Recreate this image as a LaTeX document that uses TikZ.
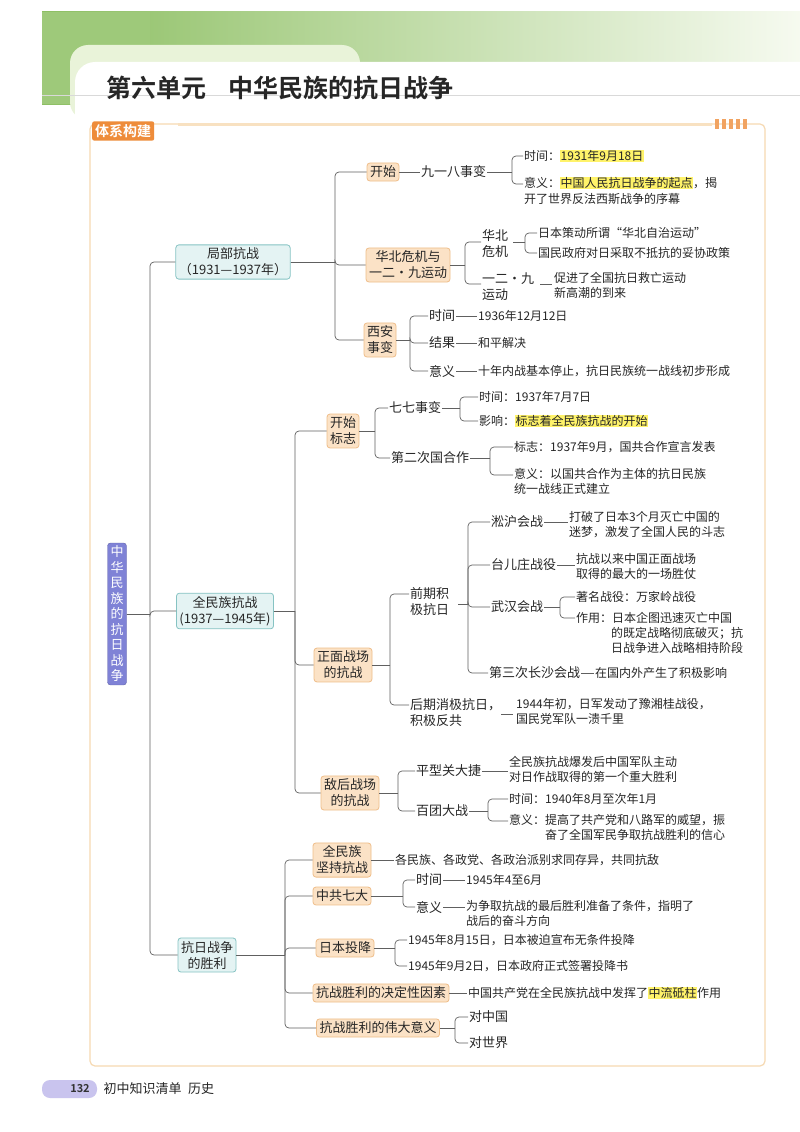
\documentclass[tikz,border=0pt]{standalone}
\usepackage{fontspec}
\setmainfont{Noto Sans CJK SC}
\newfontfamily\boldcjk{Noto Sans CJK SC Bold}
\usetikzlibrary{calc}
\definecolor{boxfill}{HTML}{FBE2C6}
\definecolor{boxdraw}{HTML}{EFBE8A}
\definecolor{tealfill}{HTML}{E4F3F3}
\definecolor{tealdraw}{HTML}{86C3C3}
\definecolor{rootfill}{HTML}{7F82D6}
\definecolor{framec}{HTML}{F6D9B2}
\definecolor{tabc}{HTML}{EE8C3A}
\definecolor{hlc}{HTML}{FFF36A}
\definecolor{greenA}{HTML}{8DBF63}
\definecolor{greenB}{HTML}{E9F3D9}
\definecolor{pillc}{HTML}{C9C4EE}
\newcommand{\hl}[1]{{\setlength{\fboxsep}{0.5pt}\colorbox{hlc}{#1}}}
\newcommand{\br}[3]{\path (#2,0) coordinate (tmpx); \draw[ln,rounded corners=0] (#1.east) -- (#1.east -| tmpx); \draw[ln] (#1.east -| tmpx) |- (#3.west);}
\tikzset{
 ln/.style={draw=gray!75!black, line width=0.7pt, rounded corners=4pt},
 obox/.style={draw=boxdraw, fill=boxfill, rounded corners=3pt, line width=0.8pt, font=\fontsize{13}{16}\selectfont, align=center, inner sep=3pt, text=black!85},
 tbox/.style={draw=tealdraw, fill=tealfill, rounded corners=3pt, line width=0.8pt, font=\fontsize{13}{16}\selectfont, align=center, inner sep=3pt, text=black!85},
 lab/.style={font=\fontsize{13}{16}\selectfont, align=left, inner sep=1pt, anchor=west, text=black!85},
 txt/.style={font=\fontsize{12}{15.5}\selectfont, align=left, inner sep=1pt, anchor=west, text=black!85},
}
\begin{document}
\begin{tikzpicture}[x=1pt,y=-1pt]
\useasboundingbox (0,0) rectangle (800,1132);
\fill[white] (0,0) rectangle (800,1132);
% banner
\shade[left color=greenA, right color=greenB!40] (42,12) rectangle (800,104);
\fill[greenA!85] (42,12) rectangle (150,104);
\fill[greenB, rounded corners=18pt] (70,45) rectangle (360,120);
\fill[white, rounded corners=20pt] (75,62) rectangle (820,140);
\fill[white] (75,95) rectangle (800,110);
\draw[gray!30] (42,95) -- (800,95);
\node[anchor=west, font=\boldcjk\fontsize{25}{28}\selectfont, text=black!85, inner sep=0] (title) at (106,88) {第六单元\hspace{0.9em}中华民族的抗日战争};
% frame
\draw[framec, line width=1.2pt, rounded corners=5pt] (90,124) rectangle (765,1066);
\draw[framec!80, line width=3pt] (178,124) -- (712,124);
\node[fill=tabc, text=white, font=\boldcjk\fontsize{14}{16}\selectfont, rounded corners=2pt, inner sep=3pt, anchor=west] (tab) at (92,131) {体系构建};
\foreach \i in {0,...,4} \fill[tabc!80] (715+\i*7,119) rectangle (719+\i*7,129);
% root
\node[fill=rootfill, draw=rootfill!80!black, rounded corners=3pt, text=white, font=\fontsize{13}{15.5}\selectfont, align=center, inner sep=3pt] (root) at (117,614) {中\\华\\民\\族\\的\\抗\\日\\战\\争};
% level1
\node[tbox] (ju) at (233,262) {局部抗战\\（1931—1937年）};
\node[tbox] (qm) at (225,611) {全民族抗战\\(1937—1945年)};
\node[tbox] (sl) at (207,955) {抗日战争\\的胜利};
\br{root}{150}{ju} \br{root}{150}{qm} \br{root}{150}{sl}
% 局部抗战
\node[obox] (ks) at (383,172) {开始};
\node[obox] (hb) at (408,265) {华北危机与\\一二·九运动};
\node[obox] (xa) at (380,340) {西安\\事变};
\br{ju}{335}{ks} \br{ju}{335}{hb} \br{ju}{335}{xa}
\node[lab] (jyb) at (420,172) {九一八事变};
\draw[ln] (ks) -- (jyb);
\node[txt] (t1) at (523,156) {时间：\hl{1931年9月18日}};
\node[txt, anchor=north west] (t2) at (523,176) {意义：\hl{中国人民抗日战争的起点}，揭\\开了世界反法西斯战争的序幕};
\path (512,0) coordinate (b1); \draw[ln,rounded corners=0] (jyb.east) -- (jyb.east -| b1); \draw[ln] (jyb.east -| b1) |- (t1.west);
\draw[ln] (jyb.east -| b1) |- ($(t2.north west)+(0,8)$);
\node[lab, anchor=north west] (hbwj) at (481,228) {华北\\危机};
\node[lab, anchor=north west] (yej) at (481,272) {一二·九\\运动};
\path (465,0) coordinate (b2);
\draw[ln,rounded corners=0] (hb.east) -- (hb.east -| b2);
\draw[ln] (hb.east -| b2) |- ($(hbwj.north west)+(0,14)$);
\draw[ln] (hb.east -| b2) |- ($(yej.north west)+(0,12)$);
\node[txt] (h1) at (537,233) {日本策动所谓“华北自治运动”};
\node[txt] (h2) at (537,253) {国民政府对日采取不抵抗的妥协政策};
\path (513,242) coordinate (hbe);
\path (525,0) coordinate (b3);
\draw[ln,rounded corners=0] (hbe) -- (hbe -| b3);
\draw[ln] (hbe -| b3) |- (h1.west); \draw[ln] (hbe -| b3) |- (h2.west);
\node[txt, anchor=north west] (h3) at (553,271) {促进了全国抗日救亡运动\\新高潮的到来};
\draw[ln, rounded corners=0] (540,284) -- (552,284);
\node[lab] (x1) at (428,316) {时间};
\node[lab] (x2) at (428,343) {结果};
\node[lab] (x3) at (428,371) {意义};
\br{xa}{410}{x1} \br{xa}{410}{x2} \br{xa}{410}{x3}
\node[txt] (x1t) at (477,316) {1936年12月12日};
\node[txt] (x2t) at (477,343) {和平解决};
\node[txt] (x3t) at (477,371) {十年内战基本停止，抗日民族统一战线初步形成};
\draw[ln] (x1) -- (x1t); \draw[ln] (x2) -- (x2t); \draw[ln] (x3) -- (x3t);
% 全民族抗战
\node[obox] (ksbz) at (343,431) {开始\\标志};
\node[obox] (zm) at (343,665) {正面战场\\的抗战};
\node[obox] (dh) at (350,793) {敌后战场\\的抗战};
\br{qm}{295}{ksbz} \br{qm}{295}{zm} \br{qm}{295}{dh}
\node[lab] (qq) at (388,408) {七七事变};
\node[lab] (dec) at (390,458) {第二次国合作};
\br{ksbz}{375}{qq} \br{ksbz}{375}{dec}
\node[txt] (q1) at (478,397) {时间：1937年7月7日};
\node[txt] (q2) at (478,421) {影响：\hl{标志着全民族抗战的开始}};
\br{qq}{460}{q1} \br{qq}{460}{q2}
\node[txt] (d1) at (513,447) {标志：1937年9月，国共合作宣言发表};
\node[txt, anchor=north west] (d2) at (513,467) {意义：以国共合作为主体的抗日民族\\统一战线正式建立};
\br{dec}{490}{d1}
\draw[ln] (dec.east -| tmpx) |- ($(d2.north west)+(0,8)$);
% 正面战场
\node[lab, anchor=north west] (qq1) at (409,586) {前期积\\极抗日};
\node[lab, anchor=north west] (hq1) at (409,697) {后期消极抗日，\\积极反共};
\path (390,0) coordinate (b5);
\draw[ln,rounded corners=0] (zm.east) -- (zm.east -| b5);
\draw[ln] (zm.east -| b5) |- ($(qq1.north west)+(0,8)$);
\draw[ln] (zm.east -| b5) |- ($(hq1.north west)+(0,8)$);
\node[lab] (sh) at (490,522) {淞沪会战};
\node[lab] (tez) at (490,565) {台儿庄战役};
\node[lab] (wh) at (490,607) {武汉会战};
\node[lab] (cs) at (488,673) {第三次长沙会战};
\path (458,604) coordinate (qqe); \path (468,0) coordinate (b6);
\draw[ln,rounded corners=0] (qqe) -- (qqe -| b6);
\foreach \c in {sh,tez,wh,cs} {\draw[ln] (qqe -| b6) |- (\c.west);}
\node[txt, anchor=north west] (sht) at (568,510) {打破了日本3个月灭亡中国的\\迷梦，激发了全国人民的斗志};
\draw[ln, rounded corners=0] (sh.east) -- (sht.west |- sh.east);
\node[txt, anchor=north west] (tzt) at (575,552) {抗战以来中国正面战场\\取得的最大的一场胜仗};
\draw[ln, rounded corners=0] (tez.east) -- (tzt.west |- tez.east);
\node[txt] (w1) at (575,597) {著名战役：万家岭战役};
\node[txt] (w2) at (575,618) {作用：日本企图迅速灭亡中国};
\node[txt, anchor=north west] (w3) at (610,626) {的既定战略彻底破灭；抗\\日战争进入战略相持阶段};
\br{wh}{560}{w1} \br{wh}{560}{w2}
\node[txt] (cst) at (594,673) {在国内外产生了积极影响};
\draw[ln] (cs) -- (cst);
\node[txt, anchor=north west] (hqt) at (515,697) {1944年初，日军发动了豫湘桂战役，\\国民党军队一溃千里};
\draw[ln, rounded corners=0] (501,714) -- (513,714);
% 敌后
\node[lab] (pxg) at (415,771) {平型关大捷};
\node[lab] (btd) at (415,811) {百团大战};
\br{dh}{398}{pxg} \br{dh}{398}{btd}
\node[txt, anchor=north west] (pxt) at (508,755) {全民族抗战爆发后中国军队主动\\对日作战取得的第一个重大胜利};
\draw[ln, rounded corners=0] (pxg.east) -- (pxt.west |- pxg.east);
\node[txt] (b1t) at (508,799) {时间：1940年8月至次年1月};
\node[txt, anchor=north west] (b2t) at (508,813) {意义：提高了共产党和八路军的威望，振\\\hspace*{3em}奋了全国军民争取抗战胜利的信心};
\br{btd}{488}{b1t}
\draw[ln] (btd.east -| tmpx) |- ($(b2t.north west)+(0,8)$);
% 胜利
\node[obox] (qmz) at (342,860) {全民族\\坚持抗战};
\node[obox] (zg) at (342,896) {中共七大};
\node[obox] (rb) at (345,948) {日本投降};
\node[obox] (jd) at (381,993) {抗战胜利的决定性因素};
\node[obox] (wd) at (378,1028) {抗战胜利的伟大意义};
\foreach \c in {qmz,zg,rb,jd,wd} {\br{sl}{285}{\c}}
\node[txt] (qmt) at (394,860) {各民族、各政党、各政治派别求同存异，共同抗敌};
\draw[ln] (qmz) -- (qmt);
\node[lab] (z1) at (415,880) {时间};
\node[lab] (z2) at (415,907) {意义};
\br{zg}{403}{z1} \br{zg}{403}{z2}
\node[txt] (z1t) at (465,880) {1945年4至6月};
\node[txt, anchor=north west] (z2t) at (465,899) {为争取抗战的最后胜利准备了条件，指明了\\战后的奋斗方向};
\draw[ln] (z1) -- (z1t); \draw[ln, rounded corners=0] (z2.east) -- (z2t.west |- z2.east);
\node[txt] (r1) at (407,940) {1945年8月15日，日本被迫宣布无条件投降};
\node[txt] (r2) at (407,966) {1945年9月2日，日本政府正式签署投降书};
\br{rb}{395}{r1} \br{rb}{395}{r2}
\node[txt] (jdt) at (467,993) {中国共产党在全民族抗战中发挥了\hl{中流砥柱}作用};
\draw[ln] (jd) -- (jdt);
\node[lab] (w1z) at (468,1017) {对中国};
\node[lab] (w2z) at (468,1043) {对世界};
\br{wd}{455}{w1z} \br{wd}{455}{w2z}
% footer
\fill[pillc, rounded corners=8pt] (42,1080) rectangle (97,1098);
\node[font=\boldcjk\fontsize{11}{13}\selectfont, text=black!80] (pg) at (80,1089) {132};
\node[anchor=west, font=\fontsize{13}{15}\selectfont, text=black!85] (ft) at (100,1089) {初中知识清单\hspace{0.5em}历史};
\end{tikzpicture}
\end{document}
